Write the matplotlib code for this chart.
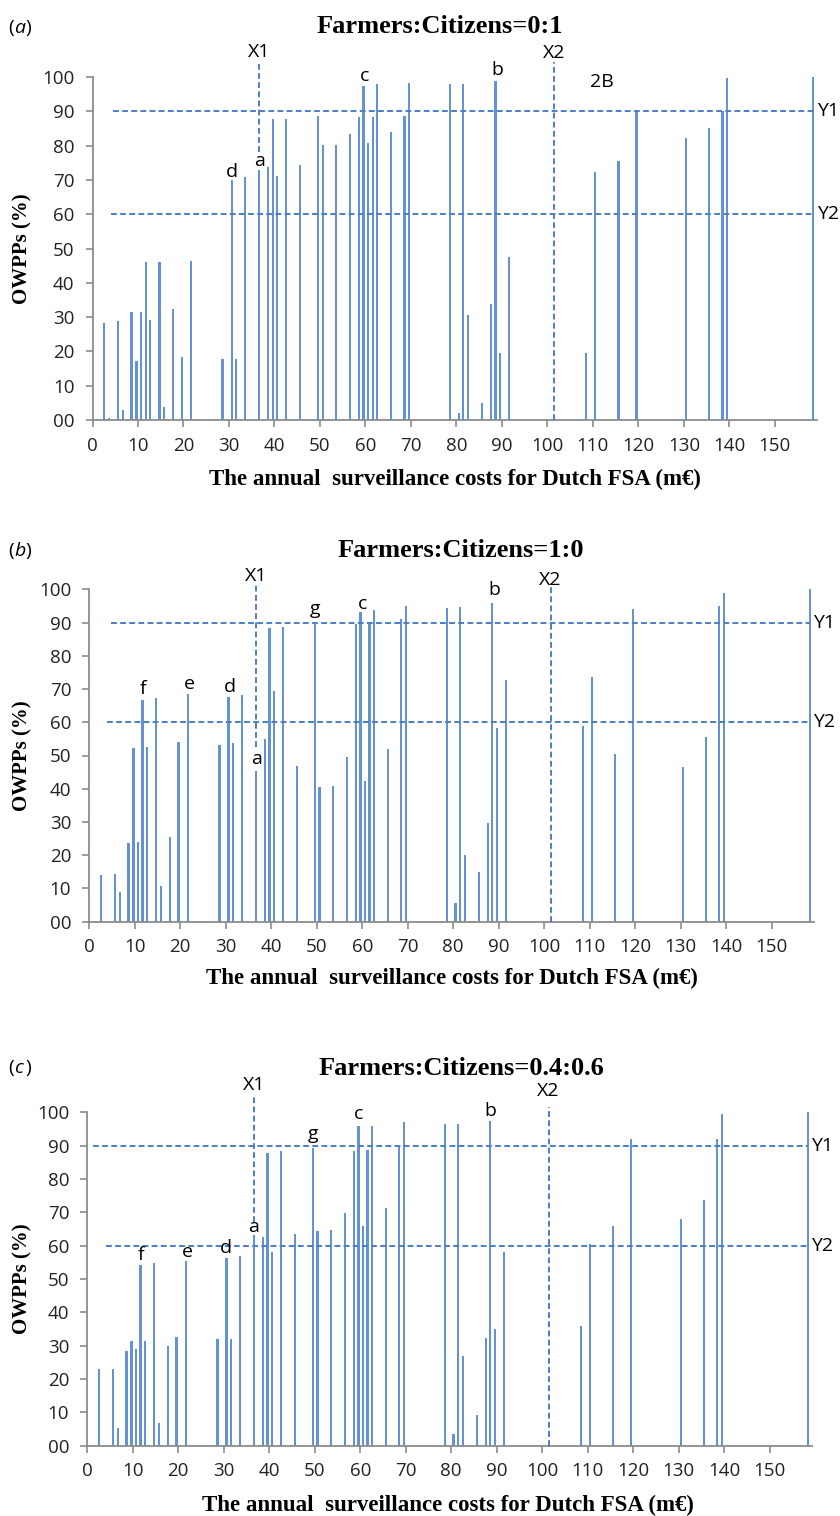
import matplotlib
matplotlib.use("Agg")
import matplotlib.pyplot as plt

# ---------------- data ----------------
cost = [2.6, 3.7, 5.6, 6.7, 8.6, 9.7, 10.7, 11.7, 12.7, 14.7, 15.7, 17.7, 19.6, 21.7,
        28.6, 30.6, 31.6, 33.6, 36.6, 38.6, 39.6, 40.6, 42.6, 45.6, 49.6, 50.6, 53.6,
        56.6, 58.6, 59.6, 60.6, 61.6, 62.6, 65.6, 68.6, 69.6,
        78.6, 80.5, 81.5, 82.6, 85.6, 87.6, 88.6, 89.6, 91.6,
        108.5, 110.5, 115.6, 119.6, 130.5, 135.5, 138.5, 139.5, 158.4]

owpp_a = [28.3, 0.5, 28.8, 2.9, 31.5, 17.3, 31.5, 46.0, 29.2, 46.0, 3.7, 32.3, 18.3, 46.4,
          17.8, 69.9, 17.8, 70.7, 73.0, 73.8, 87.9, 71.1, 87.9, 74.2, 88.5, 80.3, 80.3,
          83.4, 88.2, 97.4, 80.8, 88.2, 97.9, 83.9, 88.5, 98.3,
          97.9, 1.9, 98.0, 30.6, 4.9, 33.7, 98.8, 19.6, 47.6,
          19.6, 72.3, 75.4, 90.0, 82.2, 85.1, 90.0, 99.7, 100.0]

owpp_b = [14.0, 0.0, 14.5, 9.0, 23.6, 52.2, 24.1, 66.7, 52.7, 67.2, 10.7, 25.4, 54.2, 68.5,
          53.2, 67.7, 53.7, 68.2, 45.4, 55.0, 88.3, 69.5, 88.6, 46.8, 89.6, 40.4, 40.8,
          49.4, 89.5, 93.3, 42.3, 89.5, 93.8, 51.9, 91.0, 95.0,
          94.3, 5.5, 94.6, 20.1, 15.0, 29.6, 96.0, 58.2, 72.7,
          59.0, 73.5, 50.5, 94.1, 46.4, 55.5, 95.1, 98.8, 100.0]

owpp_c = [23.0, 0.0, 23.0, 5.3, 28.5, 31.5, 29.0, 54.3, 31.5, 54.8, 6.7, 29.8, 32.7, 55.5,
          32.0, 56.3, 32.0, 57.0, 63.3, 62.5, 87.8, 58.0, 88.5, 63.5, 89.3, 64.3, 64.8,
          69.8, 88.3, 96.0, 65.8, 88.8, 96.0, 71.2, 89.7, 97.0,
          96.6, 3.6, 96.6, 26.9, 9.2, 32.4, 97.5, 35.1, 58.2,
          36.0, 60.5, 65.9, 91.9, 68.1, 73.6, 92.1, 99.4, 100.0]

titles = ["Farmers:Citizens=0:1", "Farmers:Citizens=1:0", "Farmers:Citizens=0.4:0.6"]
panel_tags = ["a", "b", "c"]

y_ticks = list(range(0, 101, 10))
y_tick_labels = ["00"] + [str(v) for v in range(10, 101, 10)]
x_ticks = list(range(0, 151, 10))
x_tick_labels = [str(v) for v in x_ticks]

x1_cost = 36.6
x2_cost = 101.4
y1_level = 90
y2_level = 60

# point labels: (text, cost, OWPP level where the label sits)
marks_a = [("d", 30.7, 72.3), ("a", 36.8, 75.4), ("c", 59.9, 100.3), ("b", 88.9, 102.0), ("2B", 111.9, 98.5)]
marks_b = [("f", 11.9, 69.9), ("e", 22.0, 71.5), ("d", 30.9, 70.7), ("a", 36.8, 48.8),
           ("g", 49.7, 94.0), ("c", 60.0, 95.6), ("b", 89.0, 99.8)]
marks_c = [("f", 11.8, 57.2), ("e", 22.0, 58.2), ("d", 30.5, 59.2), ("a", 36.6, 65.5),
           ("g", 49.7, 93.5), ("c", 59.6, 99.5), ("b", 88.7, 100.5)]

# ---------------- style / layout ----------------
W, H = 840, 1516
bar_color = "#6393D6"
line_color = "#4D7EC4"
spine_color = "#8C8C8C"
sans = ["Open Sans", "DejaVu Sans"]
serif = ["Liberation Serif", "DejaVu Serif"]

fig = plt.figure(figsize=(W / 100, H / 100), dpi=100)

# left px, y0 px, y100 px
layouts = [(92.5, 420.0, 77.0), (89.3, 921.7, 589.3), (87.3, 1445.7, 1112.3)]
# (x1 line top, x1 line bottom, x2 line top, y1 line start, y2 line start, X1 label y, X2 label y)
guides = [(104.4, 78.2, 104.4, 4.5, 4.0, 107.3, 107.0),
          (101.8, 52.7, 100.8, 4.8, 4.0, 103.9, 102.8),
          (104.5, 67.2, 101.7, 1.2, 4.1, 108.3, 106.5)]
title_pos = [(440, 33), (461, 557), (461, 1075)]
tag_pos = [(8, 28), (8, 551), (8, 1068)]
xlabel_pos = [(455, 479), (452, 978), (448, 1505)]
xmax = 159.2
pxu = 4.549

all_vals = [owpp_a, owpp_b, owpp_c]
all_marks = [marks_a, marks_b, marks_c]

for i in range(3):
    left, y0, y100 = layouts[i]
    ax = fig.add_axes([left / W, 1 - y0 / H, xmax * pxu / W, (y0 - y100) / H])
    ax.bar(cost, all_vals[i], width=0.5, color=bar_color, linewidth=0, zorder=2)
    ax.set_xlim(0, xmax)
    ax.set_ylim(0, 100)

    for s in ["top", "right"]:
        ax.spines[s].set_visible(False)
    for s in ["left", "bottom"]:
        ax.spines[s].set_color(spine_color)
        ax.spines[s].set_linewidth(1.3)

    ax.set_yticks(y_ticks)
    ax.set_yticklabels(y_tick_labels, family=sans, fontsize=13.5, color="#222222")
    ax.set_xticks(x_ticks)
    ax.set_xticklabels(x_tick_labels, family=sans, fontsize=13.5, color="#222222")
    ax.tick_params(axis="both", direction="out", length=5, width=1.2, color=spine_color)
    ax.tick_params(axis="y", pad=8)
    ax.tick_params(axis="x", pad=7)

    x1_top, x1_bot, x2_top, y1_start, y2_start, x1_lab, x2_lab = guides[i]
    dash = (0, (3, 1.7))
    ax.plot([x1_cost, x1_cost], [x1_bot, x1_top], ls=dash, lw=1.4, color=line_color, clip_on=False, zorder=3)
    ax.plot([x2_cost, x2_cost], [0, x2_top], ls=dash, lw=1.4, color=line_color, clip_on=False, zorder=3)
    ax.plot([y1_start, cost[-1]], [y1_level, y1_level], ls=dash, lw=1.4, color=line_color, zorder=3)
    ax.plot([y2_start, cost[-1]], [y2_level, y2_level], ls=dash, lw=1.4, color=line_color, zorder=3)

    ax.text(x1_cost, x1_lab, "X1", family=sans, fontsize=14, ha="center", va="center", clip_on=False)
    ax.text(x2_cost, x2_lab, "X2", family=sans, fontsize=14, ha="center", va="center", clip_on=False)
    ax.text(cost[-1] + 0.8, y1_level, "Y1", family=sans, fontsize=14, ha="left", va="center", clip_on=False)
    ax.text(cost[-1] + 0.8, y2_level, "Y2", family=sans, fontsize=14, ha="left", va="center", clip_on=False)

    for txt, xv, yv in all_marks[i]:
        ax.text(xv, yv, txt, family=sans, fontsize=14, ha="center", va="center", clip_on=False)

    # title, panel tag, axis labels
    tx, ty = title_pos[i]
    fig.text(tx / W, 1 - ty / H, titles[i], family=serif, weight="bold", fontsize=19,
             ha="center", va="baseline")
    gx, gy = tag_pos[i]
    fig.text(gx / W, 1 - gy / H, "(", family=sans, fontsize=14, ha="left", va="center")
    fig.text((gx + 6.5) / W, 1 - gy / H, panel_tags[i], family=sans, fontsize=14, style="italic",
             ha="left", va="center")
    fig.text((gx + 17.5) / W, 1 - gy / H, ")", family=sans, fontsize=14, ha="left", va="center")

    lx, ly = xlabel_pos[i]
    fig.text(lx / W, 1 - ly / H, "The annual  surveillance costs for Dutch FSA (m\u20ac)",
             family=serif, weight="bold", fontsize=16.5, ha="center", va="center")
    fig.text(22 / W, 1 - ((y0 + y100) / 2) / H, "OWPPs (%)", family=serif, weight="bold",
             fontsize=15, rotation=90, ha="center", va="center")

fig.savefig("out.png", dpi=100, facecolor="white")
